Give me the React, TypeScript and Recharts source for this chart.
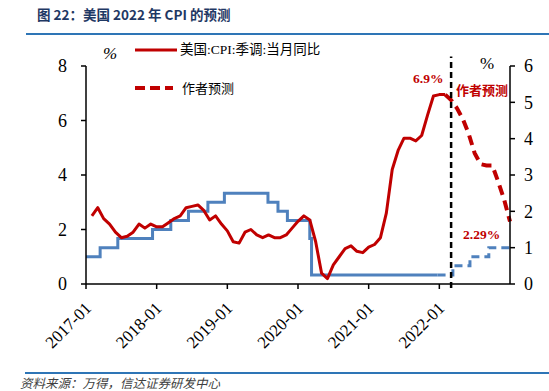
import React from "react";
import { Line, LineChart, ReferenceLine, XAxis, YAxis } from "recharts";

const tickMonths = [0, 12, 24, 36, 48, 60];
const tickLabels = ["2017-01", "2018-01", "2019-01", "2020-01", "2021-01", "2022-01"];

// US CPI yoy (%), month-end points starting 2017-01
const cpiActual = [
  2.5, 2.8, 2.4, 2.2, 1.9, 1.7, 1.75, 1.9, 2.2, 2.05, 2.2, 2.1,
  2.1, 2.25, 2.4, 2.5, 2.8, 2.85, 2.9, 2.7, 2.35, 2.5, 2.2, 1.95,
  1.55, 1.5, 1.9, 2.0, 1.8, 1.7, 1.8, 1.7, 1.7, 1.8, 2.05, 2.3,
  2.5, 2.35, 1.55, 0.4, 0.2, 0.7, 1.0, 1.3, 1.4, 1.2, 1.15, 1.35,
  1.45, 1.7, 2.6, 4.2, 4.9, 5.35, 5.35, 5.25, 5.45, 6.2, 6.9, 6.95,
  6.95,
];
const cpiForecast = [6.95, 6.75, 6.45, 6.05, 5.5, 4.8, 4.4, 4.35, 4.35, 3.75, 3.1, 2.29];

// fed funds upper bound (%), step changes
const rateMonths = [0, 2.4, 5.4, 11.3, 14.4, 17.4, 20.7, 23.5, 30.9, 32.6, 34.2, 38.0, 38.3, 59.7];
const rateValues = [0.75, 1.0, 1.25, 1.5, 1.75, 2.0, 2.25, 2.5, 2.25, 2.0, 1.75, 1.25, 0.25, 0.25];
const rateFcMonths = [59.7, 62.3, 65.2, 68.4, 72];
const rateFcValues = [0.25, 0.5, 0.75, 1.0, 1.0];

const cpiActualData = cpiActual.map((v, i) => ({ m: i + 1, v }));
const cpiForecastData = cpiForecast.map((v, i) => ({ m: 61 + i, v }));
const rateData = rateMonths.map((m, i) => ({ m, v: rateValues[i] }));
const rateFcData = rateFcMonths.map((m, i) => ({ m, v: rateFcValues[i] }));

const RED = "#C00000";
const BLUE = "#4F81BD";
const serif = '"Liberation Serif", "Noto Sans CJK SC", serif';
const sans = '"Noto Sans CJK SC", "Liberation Sans", sans-serif';

const XTick = ({ x, y, payload }: any) => {
  const idx = tickMonths.indexOf(payload.value);
  return (
    <g transform={`translate(${x + 2},${y + 14})`}>
      <text transform="rotate(-45)" textAnchor="end" dy="0.35em" fontSize={17} fontFamily={serif} fill="#000">
        {tickLabels[idx]}
      </text>
    </g>
  );
};

const abs = (left: number, top: number, extra: React.CSSProperties = {}): React.CSSProperties => ({
  position: "absolute",
  left,
  top,
  whiteSpace: "nowrap",
  lineHeight: 1,
  ...extra,
});

export default function App() {
  return (
    <div style={{ position: "absolute", left: 0, top: 0, width: 549, height: 391, background: "#fff", overflow: "hidden" }}>
      <div style={abs(37, 8, { fontFamily: sans, fontWeight: 700, fontSize: 13.5, color: "#1F3864" })}>
        图 22：美国 2022 年 CPI 的预测
      </div>
      <div style={abs(26, 33, { width: 523, height: 2, background: "#2E75B6" })} />

      <LineChart
        width={549}
        height={391}
        margin={{ top: 66, right: 0, bottom: 47, left: 0 }}
        style={{ position: "absolute", left: 0, top: 0 }}
      >
        <XAxis
          dataKey="m"
          type="number"
          domain={[0, 72]}
          ticks={tickMonths}
          interval={0}
          height={60}
          tick={<XTick />}
          tickSize={5}
          tickMargin={2}
          axisLine={{ stroke: "#000", strokeWidth: 1.5 }}
          tickLine={{ stroke: "#000", strokeWidth: 1.5 }}
        />
        <YAxis
          yAxisId="left"
          orientation="left"
          width={86}
          domain={[0, 8]}
          ticks={[0, 2, 4, 6, 8]}
          tickSize={5}
          tickMargin={14}
          tick={{ fill: "#000", fontSize: 18, fontFamily: serif }}
          axisLine={{ stroke: "#000", strokeWidth: 1.5 }}
          tickLine={{ stroke: "#000", strokeWidth: 1.5 }}
        />
        <YAxis
          yAxisId="right"
          orientation="right"
          width={39}
          domain={[0, 6]}
          ticks={[0, 1, 2, 3, 4, 5, 6]}
          tickSize={5}
          tickMargin={9}
          tick={{ fill: "#000", fontSize: 18, fontFamily: serif, textAnchor: "start" }}
          axisLine={{ stroke: "#000", strokeWidth: 1.5 }}
          tickLine={{ stroke: "#000", strokeWidth: 1.5 }}
        />
        <Line
          yAxisId="right"
          data={rateData}
          dataKey="v"
          type="stepAfter"
          stroke={BLUE}
          strokeWidth={3}
          dot={false}
          isAnimationActive={false}
        />
        <Line
          yAxisId="right"
          data={rateFcData}
          dataKey="v"
          type="stepAfter"
          stroke={BLUE}
          strokeWidth={3}
          strokeDasharray="8 5"
          dot={false}
          isAnimationActive={false}
        />
        <Line
          yAxisId="left"
          data={cpiActualData}
          dataKey="v"
          type="linear"
          stroke={RED}
          strokeWidth={3}
          strokeLinejoin="round"
          dot={false}
          isAnimationActive={false}
        />
        <Line
          yAxisId="left"
          data={cpiForecastData}
          dataKey="v"
          type="linear"
          stroke={RED}
          strokeWidth={4}
          strokeDasharray="10 6"
          dot={false}
          isAnimationActive={false}
        />
        <ReferenceLine
          yAxisId="left"
          segment={[{ x: 62, y: -0.15 }, { x: 62, y: 8.35 }]}
          ifOverflow="visible"
          stroke="#000"
          strokeWidth={2.5}
          strokeDasharray="6 4"
        />
      </LineChart>

      {/* legend */}
      <div style={abs(103, 45, { fontFamily: serif, fontSize: 17, fontStyle: "italic" })}>%</div>
      <svg style={{ position: "absolute", left: 0, top: 0 }} width={549} height={391} pointerEvents="none">
        <line x1={135} y1={50} x2={177} y2={50} stroke={RED} strokeWidth={3} />
        <line x1={135} y1={88} x2={173} y2={88} stroke={RED} strokeWidth={4} strokeDasharray="10 5" />
      </svg>
      <div style={abs(180, 43, { fontFamily: serif, fontSize: 13.5 })}>美国:CPI:季调:当月同比</div>
      <div style={abs(182, 81, { fontFamily: sans, fontSize: 13 })}>作者预测</div>
      <div style={abs(480, 55, { fontFamily: serif, fontSize: 17 })}>%</div>

      {/* annotations */}
      <div style={abs(413, 72, { fontFamily: serif, fontSize: 13.5, fontWeight: 700, color: RED })}>6.9%</div>
      <div style={abs(456, 83, { fontFamily: sans, fontSize: 13, fontWeight: 700, color: RED })}>作者预测</div>
      <div style={abs(463, 228, { fontFamily: serif, fontSize: 13.5, fontWeight: 700, color: RED })}>2.29%</div>

      <div style={abs(25, 372, { width: 524, height: 2, background: "#2E75B6" })} />
      <div style={abs(20, 377, { fontFamily: sans, fontSize: 12.5, fontStyle: "italic", color: "#404040" })}>
        资料来源：万得，信达证券研发中心
      </div>
    </div>
  );
}
